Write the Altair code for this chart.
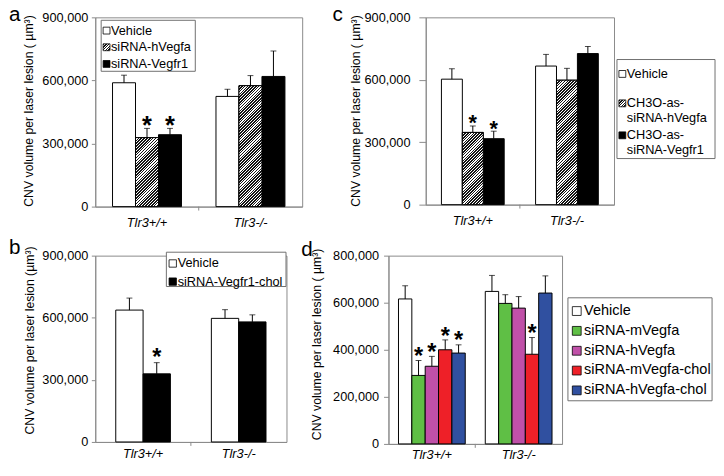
import altair as alt
import pandas as pd

FONT = "Liberation Sans"
GRAY = "#8a8a8a"
LEGSTROKE = "#6e6e6e"

groups = ["Tlr3+/+", "Tlr3-/-"]

# ---- panel a ----
a_series = ["Vehicle", "siRNA-hVegfa", "siRNA-Vegfr1"]
a_fills = ["white", "hatch", "black"]
a_wt_mean = [589000, 328000, 342000]
a_wt_err = [36000, 44000, 30000]
a_wt_star = [0, 1, 1]
a_ko_mean = [524000, 575000, 619000]
a_ko_err = [34000, 48000, 121000]
a_ko_star = [0, 0, 0]

# ---- panel c ----
c_series = ["Vehicle", "CH3O-as-siRNA-hVegfa", "CH3O-as-siRNA-Vegfr1"]
c_legend_lines = [["Vehicle"], ["CH3O-as-", "siRNA-hVegfa"], ["CH3O-as-", "siRNA-Vegfr1"]]
c_fills = ["white", "hatch", "black"]
c_wt_mean = [603000, 347000, 317000]
c_wt_err = [50000, 31000, 36000]
c_wt_star = [0, 1, 1]
c_ko_mean = [666000, 598000, 726000]
c_ko_err = [56000, 57000, 34000]
c_ko_star = [0, 0, 0]

# ---- panel b ----
b_series = ["Vehicle", "siRNA-Vegfr1-chol"]
b_fills = ["white", "black"]
b_wt_mean = [637000, 329000]
b_wt_err = [58000, 54000]
b_wt_star = [0, 1]
b_ko_mean = [597000, 580000]
b_ko_err = [42000, 34000]
b_ko_star = [0, 0]

# ---- panel d ----
d_series = ["Vehicle", "siRNA-mVegfa", "siRNA-hVegfa", "siRNA-mVegfa-chol", "siRNA-hVegfa-chol"]
d_fills = ["white", "#5fbf45", "#c050a8", "#ee2028", "#3050a0"]
d_wt_mean = [616000, 291000, 330000, 400000, 386000]
d_wt_err = [56000, 63000, 42000, 42000, 35000]
d_wt_star = [0, 1, 1, 1, 1]
d_ko_mean = [648000, 597000, 577000, 381000, 641000]
d_ko_err = [68000, 37000, 49000, 71000, 73000]
d_ko_star = [0, 0, 0, 1, 0]

y_ticks_900 = [0, 300000, 600000, 900000]
y_ticks_800 = [0, 200000, 400000, 600000, 800000]

one = pd.DataFrame({"k": [0]})


def make_df(series, fills, wt_mean, wt_err, wt_star, ko_mean, ko_err, ko_star):
    rows = []
    for g, means, errs, stars in [(groups[0], wt_mean, wt_err, wt_star),
                                  (groups[1], ko_mean, ko_err, ko_star)]:
        for s, f, m, e, st in zip(series, fills, means, errs, stars):
            rows.append(dict(group=g, series=s, mean=m, top=m + e, star=st,
                             fillc=("white" if f == "hatch" else f), hatch=(f == "hatch")))
    return pd.DataFrame(rows)


def hatch(w, h, period=2.9, frac=0.56, dark="#151515", light="#ffffff"):
    r = h / w
    s = (1 + r) / (1 + r * r)
    n = max(1, int(round((w + h) / period)))
    stops = []
    for k in range(n):
        t0 = k / n
        t1 = (k + frac) / n
        t2 = (k + 1) / n
        stops += [{"offset": t0, "color": dark}, {"offset": t1, "color": dark},
                  {"offset": t1, "color": light}, {"offset": t2, "color": light}]
    return {"gradient": "linear", "x1": 0, "y1": 0, "x2": s, "y2": s * r, "stops": stops}


def legend_layers(lines_list, fills, box, ys, x_sw, sw, x_txt, fs, lh):
    x0, x1, y0, y1 = box
    out = [alt.Chart(one).mark_rect(fill="white", stroke=LEGSTROKE, strokeWidth=1).encode(
        x=alt.value(x0), x2=alt.value(x1), y=alt.value(y0), y2=alt.value(y1))]
    for lines, f, y in zip(lines_list, fills, ys):
        fv = hatch(sw, sw, period=2.8) if f == "hatch" else f
        out.append(alt.Chart(one).mark_square(size=sw * sw, fill=fv, stroke="black",
                                              strokeWidth=0.8, opacity=1).encode(
            x=alt.value(x_sw), y=alt.value(y)))
        for j, ln in enumerate(lines):
            out.append(alt.Chart(pd.DataFrame({"label": [ln]})).mark_text(
                align="left", baseline="middle", font=FONT, fontSize=fs, color="black").encode(
                x=alt.value(x_txt), y=alt.value(y + j * lh), text="label:N"))
    return out


def panel(letter, df, series, W, H, ymax, yticks, label_pad, title, title_x, title_y,
          letter_x, letter_y, star_fs, star_gap, legend, ytick=4, ypad=3.5,
          guard=(0, 0)):
    n = len(series)
    pi = 1.5 / (n + 1.5)
    x = alt.X("group:N",
              scale=alt.Scale(domain=groups, paddingInner=pi, paddingOuter=pi / 2),
              axis=alt.Axis(title=None, labelAngle=0, ticks=False, tickSize=0,
                            labelPadding=label_pad, labelFontStyle="italic",
                            labelFontSize=13))
    xo = alt.XOffset("series:N", scale=alt.Scale(domain=series, paddingInner=0, paddingOuter=0))
    ys = alt.Scale(domain=[0, ymax], nice=False, zero=True)
    yax = alt.Axis(values=yticks, format=",d", grid=False, tickSize=ytick, labelPadding=ypad,
                   labelFontSize=13, title=title, titleFontSize=12.5, titleFontWeight="normal",
                   titleX=title_x, titleY=title_y)
    base = alt.Chart(df).encode(x=x, xOffset=xo)
    layers = [base.mark_bar(stroke="black", strokeWidth=1).encode(
        y=alt.Y("mean:Q", scale=ys, axis=yax), fill=alt.Fill("fillc:N", scale=None))]
    step = W / 2
    bw = step / (n + 1.5)
    for _, r in df[df["hatch"]].iterrows():
        bh = r["mean"] / ymax * H
        layers.append(base.transform_filter(
            f"datum.group === '{r['group']}' && datum.series === '{r['series']}'"
        ).mark_bar(fill=hatch(bw, bh), stroke="black", strokeWidth=1).encode(
            y=alt.Y("mean:Q", scale=ys, axis=yax)))
    layers.append(base.mark_rule(color="black", strokeWidth=1).encode(
        y=alt.Y("mean:Q", scale=ys, axis=yax), y2=alt.Y2("top:Q")))
    layers.append(base.mark_tick(orient="horizontal", size=6, thickness=1, color="black").encode(
        y=alt.Y("top:Q", scale=ys, axis=yax)))
    layers.append(base.transform_filter("datum.star == 1").mark_text(
        text="*", font=FONT, fontSize=star_fs, fontWeight="bold", baseline="alphabetic",
        color="black", dy=0.57 * star_fs - star_gap).encode(
        y=alt.Y("top:Q", scale=ys, axis=yax)))
    layers.append(alt.Chart(one).mark_rule(color=GRAY, strokeWidth=1).encode(
        x=alt.value(W / 2), y=alt.value(H), y2=alt.value(H + 4)))
    layers.append(alt.Chart(one).mark_text(
        text=letter, font=FONT, fontSize=21, align="left", baseline="alphabetic",
        color="black").encode(x=alt.value(letter_x), y=alt.value(letter_y)))
    # invisible layout guard (fixes the vertical extent of the panel)
    g0, g1 = guard
    if g0 != g1:
        layers.append(alt.Chart(one).mark_rule(opacity=0, strokeWidth=1).encode(
            x=alt.value(W / 2), y=alt.value(g0), y2=alt.value(g1)))
    layers += legend
    return alt.layer(*layers).properties(width=W, height=H)


TITLE_SP = "CNV volume per laser lesion ( µm³)"
TITLE = "CNV volume per laser lesion (µm³)"

df_a = make_df(a_series, a_fills, a_wt_mean, a_wt_err, a_wt_star, a_ko_mean, a_ko_err, a_ko_star)
df_c = make_df(c_series, c_fills, c_wt_mean, c_wt_err, c_wt_star, c_ko_mean, c_ko_err, c_ko_star)
df_b = make_df(b_series, b_fills, b_wt_mean, b_wt_err, b_wt_star, b_ko_mean, b_ko_err, b_ko_star)
df_d = make_df(d_series, d_fills, d_wt_mean, d_wt_err, d_wt_star, d_ko_mean, d_ko_err, d_ko_star)

pa = panel("a", df_a, a_series, 211, 193, 900000, y_ticks_900, 10, TITLE_SP, -61, 95, -88, 4, 26, 9,
           legend_layers([[s] for s in a_series], a_fills, (6, 102, 3, 55), [13.5, 30.5, 47.5],
                         11.5, 7, 16, 13, 16), guard=(193, 223))
pc = panel("c", df_c, c_series, 192, 191, 900000, y_ticks_900, 10, TITLE_SP, -65, 95, -95, 4, 22, 8,
           legend_layers(c_legend_lines, c_fills, (195, 295, 43, 144), [57.7, 87.7, 120.3],
                         200.5, 7, 205, 13, 15), ytick=7, ypad=9, guard=(191, 221))
pb = panel("b", df_b, b_series, 195, 190, 900000, y_ticks_900, 6, TITLE, -60, 86, -88, -2, 24, 11,
           legend_layers([[s] for s in b_series], b_fills, (72.5, 194.5, -3.5, 31.5), [8, 26.5],
                         79, 7.5, 84, 13, 16), guard=(-30, 0))
pd_ = panel("d", df_d, d_series, 177, 192, 800000, y_ticks_800, 5, TITLE_SP, -66, 90, -89, 0, 24, 10,
            legend_layers([[s] for s in d_series], d_fills, (183, 330, 43, 148),
                          [56.5, 76.7, 97, 117.2, 137.4], 192, 9, 199.5, 14.8, 16),
            ytick=5, ypad=5, guard=(-30, 0))

row1 = alt.hconcat(pa, pc, spacing=29).resolve_scale(xOffset="independent")
row2 = alt.hconcat(pb, pd_, spacing=13).resolve_scale(xOffset="independent")

chart = alt.vconcat(row1, row2, spacing=-12).resolve_scale(xOffset="independent").properties(
    padding={"left": 0, "top": -9, "right": 0, "bottom": 0}, background="white"
).configure_view(stroke=GRAY, strokeWidth=1).configure_axis(
    domainColor=GRAY, tickColor=GRAY, labelFont=FONT, titleFont=FONT,
    labelColor="black", titleColor="black", domainWidth=1, tickWidth=1
)

chart.save("out.html", embed_options={"renderer": "svg", "actions": False})
